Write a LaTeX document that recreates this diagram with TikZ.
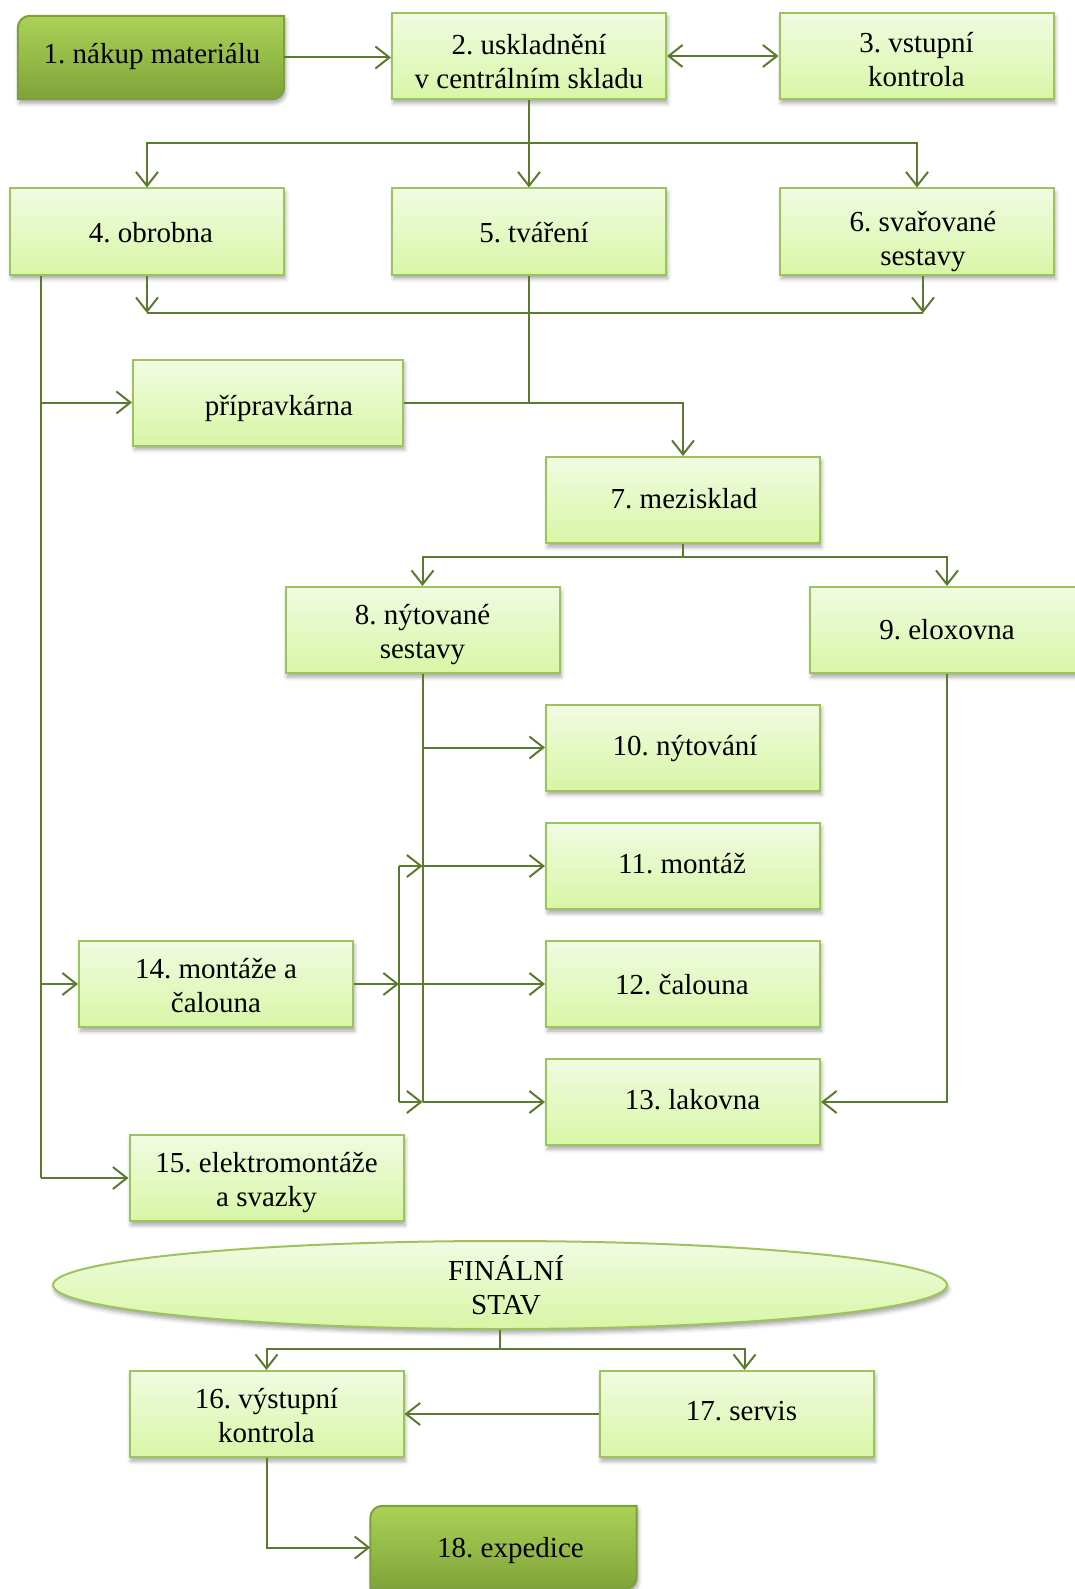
\documentclass[tikz,border=0pt]{standalone}
\usepackage{fontspec}
\setmainfont{Liberation Serif}
\usetikzlibrary{arrows.meta,shadows.blur,backgrounds,shapes.geometric}

\definecolor{lineGreen}{HTML}{5A7A2E}
\definecolor{boxEdge}{HTML}{9DC35C}
\definecolor{boxTop}{HTML}{F1FBE2}
\definecolor{boxBottom}{HTML}{D8F6A6}
\definecolor{darkEdge}{HTML}{7E9F3D}
\definecolor{darkTop}{HTML}{ABD256}
\definecolor{darkBottom}{HTML}{7FA33A}

% label text: #1 extra width on the left (moves the text right by half of it),
% #2 vertical raise, #3 lines separated by \\
\newcommand\lbl[3]{\raisebox{#2}[\height][\depth]{\hspace*{#1}\begin{tabular}{@{}c@{}}#3\end{tabular}}}

\begin{document}
\frenchspacing
\begin{tikzpicture}[x=1pt,y=-1pt,
  every node/.style={font=\fontsize{29}{34}\selectfont\frenchspacing, text=black},
  softshadow/.style={blur shadow={shadow xshift=1.5pt, shadow yshift=-4pt,
      shadow blur radius=4pt, shadow opacity=35}},
  stage/.style={draw=boxEdge, line width=2pt, top color=boxTop, bottom color=boxBottom,
      minimum width=274pt, minimum height=86pt, align=center, inner sep=0pt, softshadow},
  terminal/.style={minimum width=266pt, minimum height=83pt, align=center, inner sep=0pt},
  darkbox/.style={draw=darkEdge, line width=2pt, top color=darkTop, bottom color=darkBottom, softshadow},
  finale/.style={ellipse, draw=boxEdge, line width=2pt, top color=boxTop, bottom color=boxBottom,
      minimum width=894pt, minimum height=88pt, align=center, inner sep=0pt, softshadow},
  flow/.style={draw=lineGreen, line width=2pt},
  tip/.style={-{Straight Barb[length=14pt,width=22pt]}},
  twotips/.style={{Straight Barb[length=14pt,width=22pt]}-{Straight Barb[length=14pt,width=22pt]}},
]
\useasboundingbox (0,0) rectangle (1075,1589);

% --- stages -------------------------------------------------------------
\node[terminal] (n1) at (151,57.5) {\lbl{2pt}{1pt}{1. nákup materiálu}};
\node[stage] (n2) at (529,56) {\lbl{0pt}{-9pt}{2. uskladnění\\v centrálním skladu}};
\node[stage] (n3) at (916.5,56) {\lbl{0pt}{-7pt}{3. vstupní\\kontrola}};

\node[stage] (n4) at (147,231.5) {\lbl{8pt}{-4pt}{4. obrobna}};
\node[stage] (n5) at (529,231.5) {\lbl{10pt}{-4pt}{5. tváření}};
\node[stage] (n6) at (917,231.5) {\lbl{12pt}{-10pt}{6. svařované\\sestavy}};

\node[stage, minimum width=270pt] (np) at (268,402.5) {\lbl{22pt}{-6pt}{přípravkárna}};
\node[stage] (n7) at (683,500) {\lbl{2pt}{-2pt}{7. mezisklad}};

\node[stage] (n8) at (422.5,630) {\lbl{0pt}{-5pt}{8. nýtované\\sestavy}};
\node[stage] (n9) at (947,630) {9. eloxovna};

\node[stage] (n10) at (683,747.5) {\lbl{4pt}{-1pt}{10. nýtování}};
\node[stage] (n11) at (683,866) {\lbl{-2pt}{-1pt}{11. montáž}};
\node[stage] (n12) at (683,984) {\lbl{-2pt}{-4pt}{12. čalouna}};
\node[stage] (n13) at (683,1102) {\lbl{19pt}{-1pt}{13. lakovna}};

\node[stage] (n14) at (216,984) {\lbl{0pt}{-5pt}{14. montáže a\\čalouna}};
\node[stage] (n15) at (266.5,1178) {\lbl{0pt}{-5pt}{15. elektromontáže\\a svazky}};

\node[finale] (fin) at (500,1285) {\hspace*{12pt}FINÁLNÍ\\\hspace*{12pt}STAV};

\node[stage] (n16) at (266.5,1414) {\lbl{0pt}{-5pt}{16. výstupní\\kontrola}};
\node[stage] (n17) at (736.5,1414) {\lbl{10pt}{0pt}{17. servis}};
\node[terminal] (n18) at (503.5,1547.5) {\lbl{14pt}{-3pt}{18. expedice}};

% --- darker end boxes with two rounded corners ---------------------------
\begin{scope}[on background layer]
  \foreach \b in {n1,n18}
    \path[darkbox] (\b.south west) -- ([yshift=-12pt]\b.north west)
      arc[start angle=180, end angle=90, radius=12pt] -- (\b.north east)
      -- ([yshift=12pt]\b.south east)
      arc[start angle=0, end angle=-90, radius=12pt] -- cycle;
\end{scope}

% --- connectors ----------------------------------------------------------
\draw[flow,tip] (n1.east) -- (n1.east -| n2.west);
\draw[flow,twotips] (n2.east) -- (n3.west);

\coordinate (busA) at (529,143);
\draw[flow] (n2.south) -- (busA);
\draw[flow,tip] (busA) -| (n4.north);
\draw[flow,tip] (busA) -- (n5.north);
\draw[flow,tip] (busA) -| (n6.north);

\coordinate (busB) at (529,313);
\coordinate (s6) at ([xshift=6pt]n6.south);
\draw[flow,tip] (n4.south) -- (n4.south |- busB);
\draw[flow,tip] (s6) -- (s6 |- busB);
\draw[flow] (n4.south |- busB) -- (s6 |- busB);

\draw[flow] (n5.south) -- (n5.south |- np.east);
\draw[flow,tip] (np.east) -| (n7.north);

\coordinate (trunk) at ([xshift=31.5pt]n4.south west);
\draw[flow] (trunk) -- (trunk |- n15.west);
\draw[flow,tip] (trunk |- np.west) -- (np.west);
\draw[flow,tip] (trunk |- n14.west) -- (n14.west);
\draw[flow,tip] (trunk |- n15.west) -- (n15.west);

\coordinate (busC) at (683,557);
\draw[flow] (n7.south) -- (busC);
\draw[flow,tip] (busC) -| (n8.north);
\draw[flow,tip] (busC) -| (n9.north);

\draw[flow] (n8.south) -- (n8.south |- n13.west);
\draw[flow,tip] (n8.south |- n10.west) -- (n10.west);
\draw[flow,tip] (n8.south |- n11.west) -- (n11.west);
\draw[flow,tip] (n8.south |- n13.west) -- (n13.west);

\coordinate (j14) at (399,984);
\draw[flow,tip] (n14.east) -- (j14);
\draw[flow,tip] (j14) -- (n12.west);
\draw[flow] (j14 |- n11.west) -- (j14 |- n13.west);
\draw[flow,tip] (j14 |- n11.west) -- (n8.south |- n11.west);
\draw[flow,tip] (j14 |- n13.west) -- (n8.south |- n13.west);

\draw[flow,tip] (n9.south) |- (n13.east);

\coordinate (busD) at (500,1349);
\draw[flow] (fin.south) -- (busD);
\draw[flow,tip] (busD) -| (n16.north);
\draw[flow,tip] (busD) -| ([xshift=8pt]n17.north);

\draw[flow,tip] (n17.west) -- (n16.east);
\draw[flow,tip] (n16.south) |- (n18.west);
\end{tikzpicture}
\end{document}
